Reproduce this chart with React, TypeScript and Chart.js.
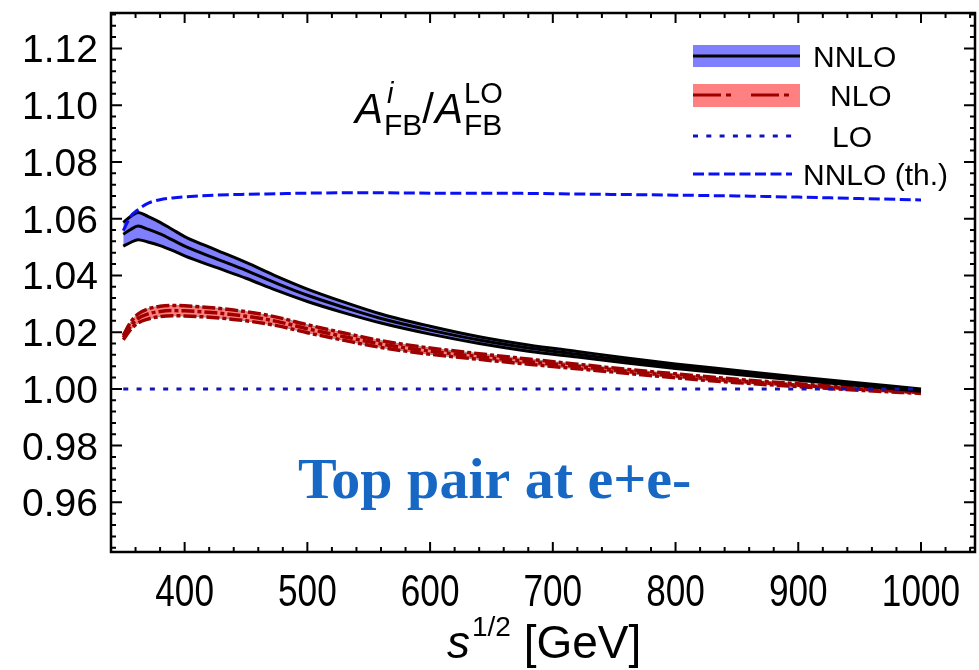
import React, { useEffect, useRef } from "react";
import { Chart, registerables } from "chart.js";

Chart.register(...registerables);

// Centre-of-mass energies (GeV) at which the ratios are sampled
const energies = [350, 356, 362, 370, 380, 390, 400, 425, 450, 475, 500, 530, 560, 600, 640, 680, 720, 760, 800, 850, 900, 950, 1000];

// NNLO ratio: scale-variation band and central value
const nnloUpper = [1.0587, 1.0608, 1.0622, 1.0608, 1.0587, 1.0562, 1.0537, 1.0491, 1.0446, 1.0397, 1.0352, 1.0306, 1.0264, 1.0221, 1.0184, 1.0155, 1.0132, 1.0109, 1.0088, 1.0065, 1.0042, 1.0021, 1.0000];
const nnloCentral = [1.0545, 1.0562, 1.0574, 1.0563, 1.0546, 1.0525, 1.0503, 1.0460, 1.0418, 1.0372, 1.0330, 1.0287, 1.0248, 1.0207, 1.0172, 1.0144, 1.0122, 1.0100, 1.0080, 1.0058, 1.0036, 1.0016, 0.9996];
const nnloLower = [1.0503, 1.0516, 1.0526, 1.0518, 1.0505, 1.0488, 1.0469, 1.0429, 1.0390, 1.0347, 1.0308, 1.0268, 1.0232, 1.0193, 1.0160, 1.0133, 1.0112, 1.0091, 1.0072, 1.0051, 1.0030, 1.0011, 0.9992];

// NLO ratio: band and central value
const nloUpper = [1.0189, 1.0235, 1.0264, 1.0282, 1.0291, 1.0294, 1.0293, 1.0285, 1.0272, 1.0253, 1.0226, 1.0197, 1.0170, 1.0144, 1.0124, 1.0105, 1.0087, 1.0069, 1.0053, 1.0034, 1.0018, 1.0003, 0.9990];
const nloCentral = [1.0181, 1.0222, 1.0248, 1.0264, 1.0273, 1.0276, 1.0275, 1.0268, 1.0256, 1.0238, 1.0212, 1.0184, 1.0158, 1.0133, 1.0114, 1.0096, 1.0079, 1.0062, 1.0046, 1.0028, 1.0013, 0.9999, 0.9987];
const nloLower = [1.0173, 1.0209, 1.0232, 1.0246, 1.0255, 1.0258, 1.0257, 1.0251, 1.0240, 1.0223, 1.0198, 1.0171, 1.0146, 1.0122, 1.0104, 1.0087, 1.0071, 1.0055, 1.0039, 1.0022, 1.0008, 0.9995, 0.9984];

// NNLO with threshold resummation
const nnloThreshold = [1.0558, 1.0608, 1.0632, 1.0654, 1.0667, 1.0673, 1.0677, 1.0683, 1.0686, 1.0688, 1.0690, 1.0691, 1.0691, 1.0690, 1.0690, 1.0689, 1.0687, 1.0685, 1.0683, 1.0680, 1.0676, 1.0671, 1.0666];

// LO reference line
const loEnergies = [350, 1000];
const loValues = [1.0, 1.0];

// Axis ticks
const xTickValues = [400, 500, 600, 700, 800, 900, 1000];
const xTickLabels = ["400", "500", "600", "700", "800", "900", "1000"];
const yTickValues = [0.96, 0.98, 1.0, 1.02, 1.04, 1.06, 1.08, 1.1, 1.12];
const yTickLabels = ["0.96", "0.98", "1.00", "1.02", "1.04", "1.06", "1.08", "1.10", "1.12"];
const legendLabels = ["NNLO", "NLO", "LO", "NNLO (th.)"];

const X_MIN = 340;
const X_MAX = 1044;
const Y_MIN = 0.9425;
const Y_MAX = 1.1325;

const NNLO_FILL = "rgb(128,128,255)";
const NLO_FILL = "rgb(255,128,128)";
const NLO_LINE = "rgb(158,0,0)";
const LO_COLOR = "rgb(20,20,180)";
const TH_COLOR = "rgb(10,16,245)";
const NLO_DASH = [13, 3, 4, 3];
const SANS = "'Liberation Sans', Arial, sans-serif";

const pts = (ys: number[]) => energies.map((x, i) => ({ x, y: ys[i] }));

function stretchedText(
  ctx: CanvasRenderingContext2D,
  text: string,
  x: number,
  y: number,
  font: string,
  align: CanvasTextAlign,
  sx = 1
) {
  ctx.save();
  ctx.translate(x, y);
  ctx.scale(sx, 1);
  ctx.font = font;
  ctx.textAlign = align;
  ctx.textBaseline = "alphabetic";
  ctx.fillText(text, 0, 0);
  ctx.restore();
}

const framePlugin = {
  id: "frameAndLabels",
  afterDatasetsDraw(chart: any) {
    const { ctx, chartArea: a } = chart;
    const xs = chart.scales.x;
    const ys = chart.scales.y;
    ctx.save();

    // frame
    ctx.strokeStyle = "#000";
    ctx.lineWidth = 2.5;
    ctx.strokeRect(a.left, a.top, a.right - a.left, a.bottom - a.top);

    // inward ticks on all four sides
    ctx.lineWidth = 2;
    ctx.beginPath();
    for (let k = 0; ; k++) {
      const v = X_MIN + k * 20;
      if (v > X_MAX) break;
      const major = xTickValues.includes(v);
      const len = major ? 10 : 5;
      const px = xs.getPixelForValue(v);
      ctx.moveTo(px, a.bottom);
      ctx.lineTo(px, a.bottom - len);
      ctx.moveTo(px, a.top);
      ctx.lineTo(px, a.top + len);
    }
    for (let k = 0; ; k++) {
      const v = 0.944 + k * 0.004;
      if (v > Y_MAX) break;
      const major = yTickValues.some((t) => Math.abs(t - v) < 1e-6);
      const len = major ? 11 : 5;
      const py = ys.getPixelForValue(v);
      ctx.moveTo(a.left, py);
      ctx.lineTo(a.left + len, py);
      ctx.moveTo(a.right, py);
      ctx.lineTo(a.right - len, py);
    }
    ctx.stroke();

    // tick labels
    ctx.fillStyle = "#000";
    yTickValues.forEach((v, i) => {
      const py = ys.getPixelForValue(v);
      stretchedText(ctx, yTickLabels[i], a.left - 13, py + 14, `39px ${SANS}`, "right", 1);
    });
    xTickValues.forEach((v, i) => {
      const px = xs.getPixelForValue(v);
      stretchedText(ctx, xTickLabels[i], px, 606, `44px ${SANS}`, "center", 0.8);
    });

    // x axis title: s^{1/2} [GeV]
    ctx.textAlign = "left";
    ctx.textBaseline = "alphabetic";
    let tx = 447;
    ctx.font = `italic 46px ${SANS}`;
    ctx.fillText("s", tx, 658);
    tx += ctx.measureText("s").width + 2;
    ctx.font = `28px ${SANS}`;
    ctx.fillText("1/2", tx, 636);
    tx += ctx.measureText("1/2").width;
    ctx.font = `46px ${SANS}`;
    ctx.fillText(" [GeV]", tx, 658);

    // ratio label A_FB^i / A_FB^LO
    let ax = 355;
    const baseY = 123;
    const subY = 135;
    const supY = 103;
    ctx.font = `italic 42px ${SANS}`;
    ctx.fillText("A", ax, baseY);
    ax += ctx.measureText("A").width + 1;
    ctx.font = `italic 29px ${SANS}`;
    ctx.fillText("i", ax + 3, supY);
    ctx.font = `30px ${SANS}`;
    ctx.fillText("FB", ax, subY);
    ax += ctx.measureText("FB").width;
    ctx.font = `42px ${SANS}`;
    ctx.fillText("/", ax, baseY);
    ax += ctx.measureText("/").width + 1;
    ctx.font = `italic 42px ${SANS}`;
    ctx.fillText("A", ax, baseY);
    ax += ctx.measureText("A").width + 1;
    ctx.font = `29px ${SANS}`;
    ctx.fillText("LO", ax, supY);
    ctx.font = `30px ${SANS}`;
    ctx.fillText("FB", ax, subY);

    // process label
    ctx.fillStyle = "rgb(22,104,196)";
    ctx.font = "bold 58px 'Liberation Serif', 'Times New Roman', serif";
    ctx.fillText("Top pair at e+e-", 298, 498);

    // legend
    const lx0 = 693;
    const lx1 = 800;
    ctx.fillStyle = NNLO_FILL;
    ctx.fillRect(lx0, 45, lx1 - lx0, 22);
    ctx.strokeStyle = "#000";
    ctx.lineWidth = 3;
    ctx.setLineDash([]);
    ctx.beginPath();
    ctx.moveTo(lx0, 56);
    ctx.lineTo(lx1, 56);
    ctx.stroke();

    ctx.fillStyle = NLO_FILL;
    ctx.fillRect(lx0, 84, lx1 - lx0, 23);
    ctx.strokeStyle = NLO_LINE;
    ctx.setLineDash([28, 5, 5, 20]);
    ctx.beginPath();
    ctx.moveTo(lx0, 95);
    ctx.lineTo(lx1 - 8, 95);
    ctx.stroke();

    ctx.strokeStyle = LO_COLOR;
    ctx.setLineDash([5, 8.3]);
    ctx.beginPath();
    ctx.moveTo(lx0, 136);
    ctx.lineTo(792, 136);
    ctx.stroke();

    ctx.strokeStyle = TH_COLOR;
    ctx.setLineDash([11, 4.5]);
    ctx.beginPath();
    ctx.moveTo(lx0, 174);
    ctx.lineTo(792, 174);
    ctx.stroke();
    ctx.setLineDash([]);

    ctx.fillStyle = "#000";
    ctx.font = `30px ${SANS}`;
    ctx.fillText(legendLabels[0], 813, 67);
    ctx.fillText(legendLabels[1], 830, 106);
    ctx.fillText(legendLabels[2], 832, 147);
    ctx.fillText(legendLabels[3], 803, 185);

    ctx.restore();
  },
};

export default function App() {
  const canvasRef = useRef<HTMLCanvasElement | null>(null);

  useEffect(() => {
    const canvas = canvasRef.current;
    if (!canvas) return;

    const common = {
      pointRadius: 0,
      cubicInterpolationMode: "monotone" as const,
      fill: false,
    };

    const chart = new Chart(canvas, {
      type: "line",
      data: {
        datasets: [
          {
            ...common,
            label: "LO",
            data: loEnergies.map((x, i) => ({ x, y: loValues[i] })),
            borderColor: LO_COLOR,
            borderWidth: 3,
            borderDash: [5, 8.3],
            order: 0,
          },
          {
            ...common,
            label: "NNLO (th.)",
            data: pts(nnloThreshold),
            borderColor: TH_COLOR,
            borderWidth: 3,
            borderDash: [11, 4.5],
            order: 1,
          },
          {
            ...common,
            label: "NNLO",
            data: pts(nnloCentral),
            borderColor: "#000",
            borderWidth: 3,
            order: 2,
          },
          {
            ...common,
            label: "NNLO upper",
            data: pts(nnloUpper),
            borderColor: "#000",
            borderWidth: 3,
            fill: "+1",
            backgroundColor: NNLO_FILL,
            order: 4,
          },
          {
            ...common,
            label: "NNLO lower",
            data: pts(nnloLower),
            borderColor: "#000",
            borderWidth: 3,
            order: 3,
          },
          {
            ...common,
            label: "NLO",
            data: pts(nloCentral),
            borderColor: NLO_LINE,
            borderWidth: 3.5,
            borderDash: NLO_DASH,
            order: 5,
          },
          {
            ...common,
            label: "NLO upper",
            data: pts(nloUpper),
            borderColor: NLO_LINE,
            borderWidth: 3.5,
            borderDash: NLO_DASH,
            order: 6,
          },
          {
            ...common,
            label: "NLO lower",
            data: pts(nloLower),
            borderColor: NLO_LINE,
            borderWidth: 3.5,
            borderDash: NLO_DASH,
            order: 7,
          },
          {
            ...common,
            label: "NLO band upper edge",
            data: pts(nloUpper),
            borderColor: "rgb(140,140,140)",
            borderWidth: 1,
            fill: "+1",
            backgroundColor: NLO_FILL,
            order: 9,
          },
          {
            ...common,
            label: "NLO band lower edge",
            data: pts(nloLower),
            borderColor: "rgb(140,140,140)",
            borderWidth: 1,
            order: 8,
          },
        ],
      },
      options: {
        animation: false,
        responsive: false,
        maintainAspectRatio: false,
        devicePixelRatio: 1,
        layout: { padding: { left: 111, top: 13, right: 4, bottom: 118 } },
        scales: {
          x: { type: "linear", min: X_MIN, max: X_MAX, display: false },
          y: { type: "linear", min: Y_MIN, max: Y_MAX, display: false },
        },
        plugins: {
          legend: { display: false },
          tooltip: { enabled: false },
        },
      },
      plugins: [framePlugin],
    });

    return () => chart.destroy();
  }, []);

  return (
    <div style={{ position: "fixed", left: 0, top: 0, width: 979, height: 670, background: "#fff" }}>
      <canvas ref={canvasRef} width={979} height={670} style={{ width: 979, height: 670, display: "block" }} />
    </div>
  );
}
